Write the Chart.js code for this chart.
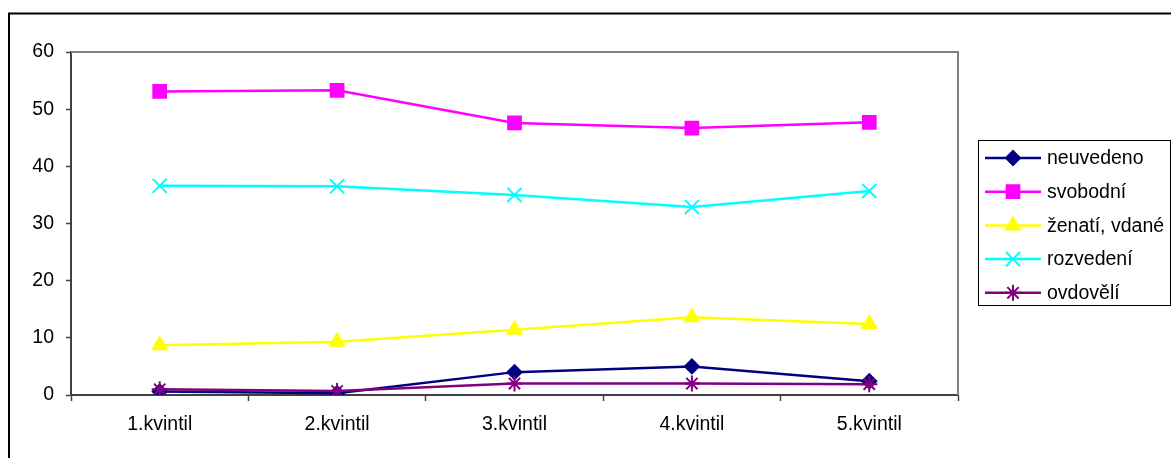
<!DOCTYPE html>
<html lang="cs">
<head>
<meta charset="UTF-8">
<title>Kvintily</title>
<script src="https://cdn.jsdelivr.net/npm/chart.js"></script>
<style>
  body { margin: 0; background: #fff; }
  canvas { display: block; }
</style>
</head>
<body>
<canvas id="graf" width="1171" height="458"></canvas>
<script>
// data
const kategorie = ['1.kvintil', '2.kvintil', '3.kvintil', '4.kvintil', '5.kvintil'];
const neuvedeno = [0.6, 0.3, 4.0, 5.0, 2.4];
const svobodni = [53.1, 53.3, 47.6, 46.7, 47.7];
const zenati = [8.7, 9.3, 11.4, 13.6, 12.4];
const rozvedeni = [36.6, 36.5, 35.0, 32.9, 35.7];
const ovdoveli = [1.0, 0.7, 2.0, 2.0, 1.9];

const pismo = '"Liberation Sans", Arial, sans-serif';
const velikost = 19.5;

function serie(nazev, data, barva, styl, r, poradi) {
    return {
        label: nazev,
        data: data,
        borderColor: barva,
        backgroundColor: barva,
        borderWidth: 2.5,
        pointStyle: styl,
        pointRadius: r,
        pointHoverRadius: r,
        pointBorderWidth: 2,
        pointBackgroundColor: barva,
        pointBorderColor: barva,
        tension: 0,
        order: poradi
    };
}

// ramecek grafu, okraj plochy a legenda
const vykresleni = {
    id: 'vykresleni',
    beforeDatasetsDraw(chart) {
        const ctx = chart.ctx;
        const a = chart.chartArea;
        ctx.save();
        ctx.strokeStyle = '#808080';
        ctx.lineWidth = 2;
        ctx.beginPath();
        ctx.moveTo(a.left, a.top);
        ctx.lineTo(a.right, a.top);
        ctx.lineTo(a.right, a.bottom);
        ctx.stroke();
        ctx.restore();
    },
    afterDraw(chart) {
        const ctx = chart.ctx;
        ctx.save();
        // vnejsi ramecek
        ctx.strokeStyle = '#000';
        ctx.lineWidth = 2;
        ctx.beginPath();
        ctx.moveTo(9, 458);
        ctx.lineTo(9, 13.5);
        ctx.lineTo(1171, 13.5);
        ctx.stroke();

        // legenda
        ctx.lineWidth = 1;
        ctx.strokeRect(978.5, 140.5, 192, 165);
        ctx.font = velikost + 'px ' + pismo;
        ctx.textBaseline = 'middle';
        chart.data.datasets.forEach((ds, i) => {
            const y = 158 + i * 33.7;
            ctx.strokeStyle = ds.borderColor;
            ctx.lineWidth = 2.5;
            ctx.beginPath();
            ctx.moveTo(985, y);
            ctx.lineTo(1041, y);
            ctx.stroke();
            ctx.fillStyle = ds.borderColor;
            ctx.strokeStyle = ds.borderColor;
            ctx.lineWidth = 2;
            Chart.helpers.drawPoint(ctx, {
                pointStyle: ds.pointStyle,
                radius: ds.pointRadius,
                rotation: 0,
                borderWidth: 2
            }, 1013, y);
            ctx.fillStyle = '#000';
            ctx.fillText(ds.label, 1047, y + 1);
        });
        ctx.restore();
    }
};

new Chart(document.getElementById('graf'), {
    type: 'line',
    data: {
        labels: kategorie,
        datasets: [
            serie('neuvedeno', neuvedeno, '#000080', 'rectRot', 7, 4),
            serie('svobodní', svobodni, '#FF00FF', 'rect', 9, 3),
            serie('ženatí, vdané', zenati, '#FFFF00', 'triangle', 8, 2),
            serie('rozvedení', rozvedeni, '#00FFFF', 'crossRot', 10, 1),
            serie('ovdovělí', ovdoveli, '#800080', 'star', 8, 0)
        ]
    },
    options: {
        responsive: false,
        animation: false,
        layout: { padding: { left: 0, top: 52, right: 213, bottom: 0 } },
        plugins: {
            legend: { display: false },
            tooltip: { enabled: false }
        },
        scales: {
            x: {
                offset: true,
                grid: {
                    offset: true,
                    drawOnChartArea: false,
                    drawTicks: true,
                    tickLength: 6,
                    tickColor: '#404040',
                    tickWidth: 1.5
                },
                border: { color: '#404040', width: 2 },
                ticks: {
                    color: '#000',
                    font: { family: pismo, size: velikost },
                    padding: 12,
                    maxRotation: 0
                },
                afterFit(scale) { scale.height = 63; }
            },
            y: {
                min: 0,
                max: 60,
                grid: {
                    drawOnChartArea: false,
                    drawTicks: true,
                    tickLength: 5,
                    tickColor: '#404040',
                    tickWidth: 1.5
                },
                border: { color: '#404040', width: 2 },
                ticks: {
                    stepSize: 10,
                    color: '#000',
                    font: { family: pismo, size: velikost },
                    padding: 12
                },
                afterFit(scale) { scale.width = 71; }
            }
        }
    },
    plugins: [vykresleni]
});
</script>
</body>
</html>
